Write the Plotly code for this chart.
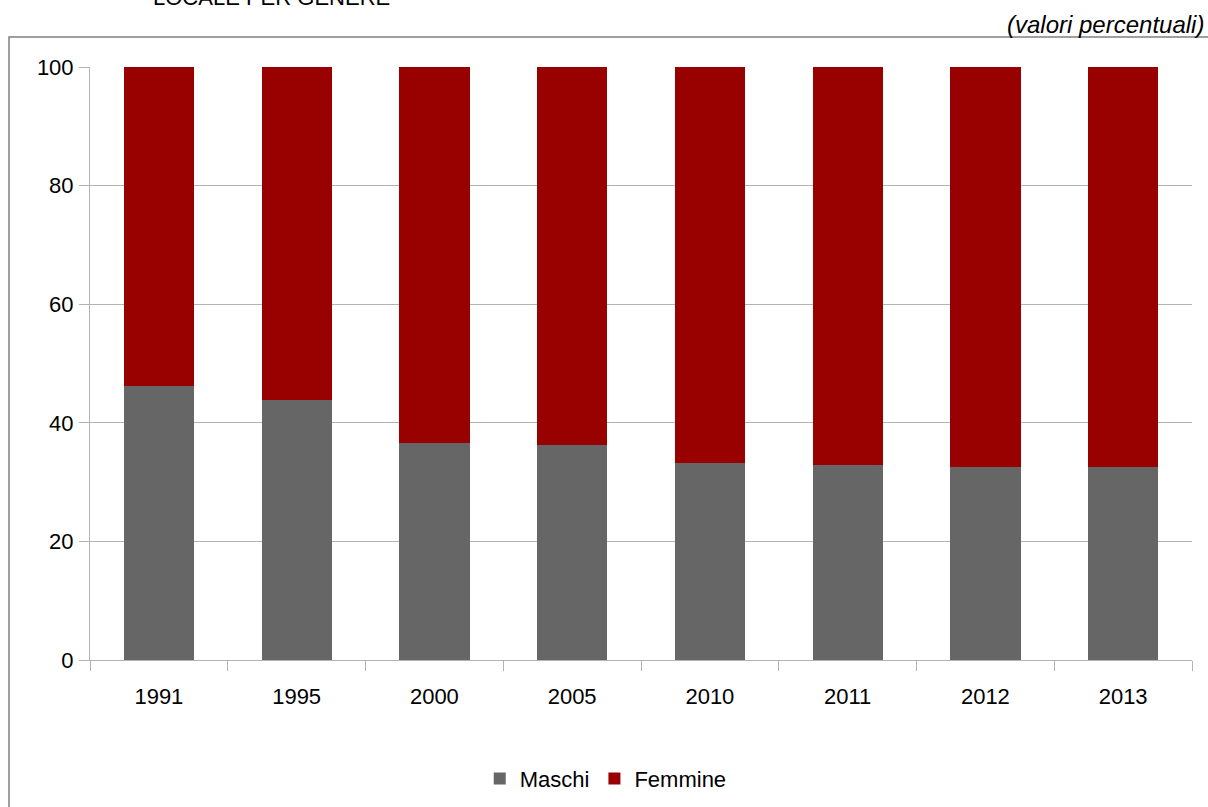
import plotly.graph_objects as go

anni = ["1991", "1995", "2000", "2005", "2010", "2011", "2012", "2013"]
maschi = [46.2, 43.8, 36.6, 36.3, 33.3, 32.9, 32.5, 32.5]
femmine = [53.8, 56.2, 63.4, 63.7, 66.7, 67.1, 67.5, 67.5]

FONT = "Liberation Sans, Arial, sans-serif"

fig = go.Figure()
fig.add_trace(go.Bar(x=anni, y=maschi, name="Maschi", marker_color="#666666", marker_line_width=0))
fig.add_trace(go.Bar(x=anni, y=femmine, name="Femmine", marker_color="#990000", marker_line_width=0))

fig.update_layout(
    barmode="stack",
    bargap=0.49,
    width=1208, height=807,
    margin=dict(l=90, r=16, t=67, b=147, autoexpand=False),
    paper_bgcolor="white", plot_bgcolor="white",
    font=dict(family=FONT, size=22, color="#000000"),
    legend=dict(orientation="h", x=0.468, xanchor="center", y=-0.2, yanchor="middle",
                font=dict(size=22), itemwidth=30, traceorder="normal"),
    xaxis=dict(type="category", tickson="boundaries", ticks="outside", ticklen=10,
               tickcolor="#b3b3b3", showline=True, linecolor="#b3b3b3", linewidth=1,
               showgrid=False, tickfont=dict(size=22), ticklabelstandoff=17),
    yaxis=dict(range=[0, 100], dtick=20, ticks="outside", ticklen=10, tickcolor="#b3b3b3",
               showline=True, linecolor="#b3b3b3", linewidth=1,
               showgrid=True, gridcolor="#b3b3b3", gridwidth=1, zeroline=False,
               tickfont=dict(size=22), ticklabelstandoff=1),
    shapes=[dict(type="rect", xref="paper", yref="paper",
                 x0=-0.0735, x1=1.2, y0=-0.5, y1=1.0506,
                 line=dict(color="#808080", width=1.5), layer="below")],
    annotations=[
        dict(text="<i>(valori percentuali)</i>", xref="paper", yref="paper",
             x=1.0127, y=1.0, xanchor="right", yanchor="bottom", yshift=27,
             showarrow=False, font=dict(size=24, family=FONT)),
        dict(text="LOCALE PER GENERE", xref="paper", yref="paper",
             x=(271 - 90) / 1102, y=1.0, xanchor="center", yanchor="bottom", yshift=55,
             showarrow=False, font=dict(size=22, family=FONT)),
    ],
)

fig.write_html("out.html")
